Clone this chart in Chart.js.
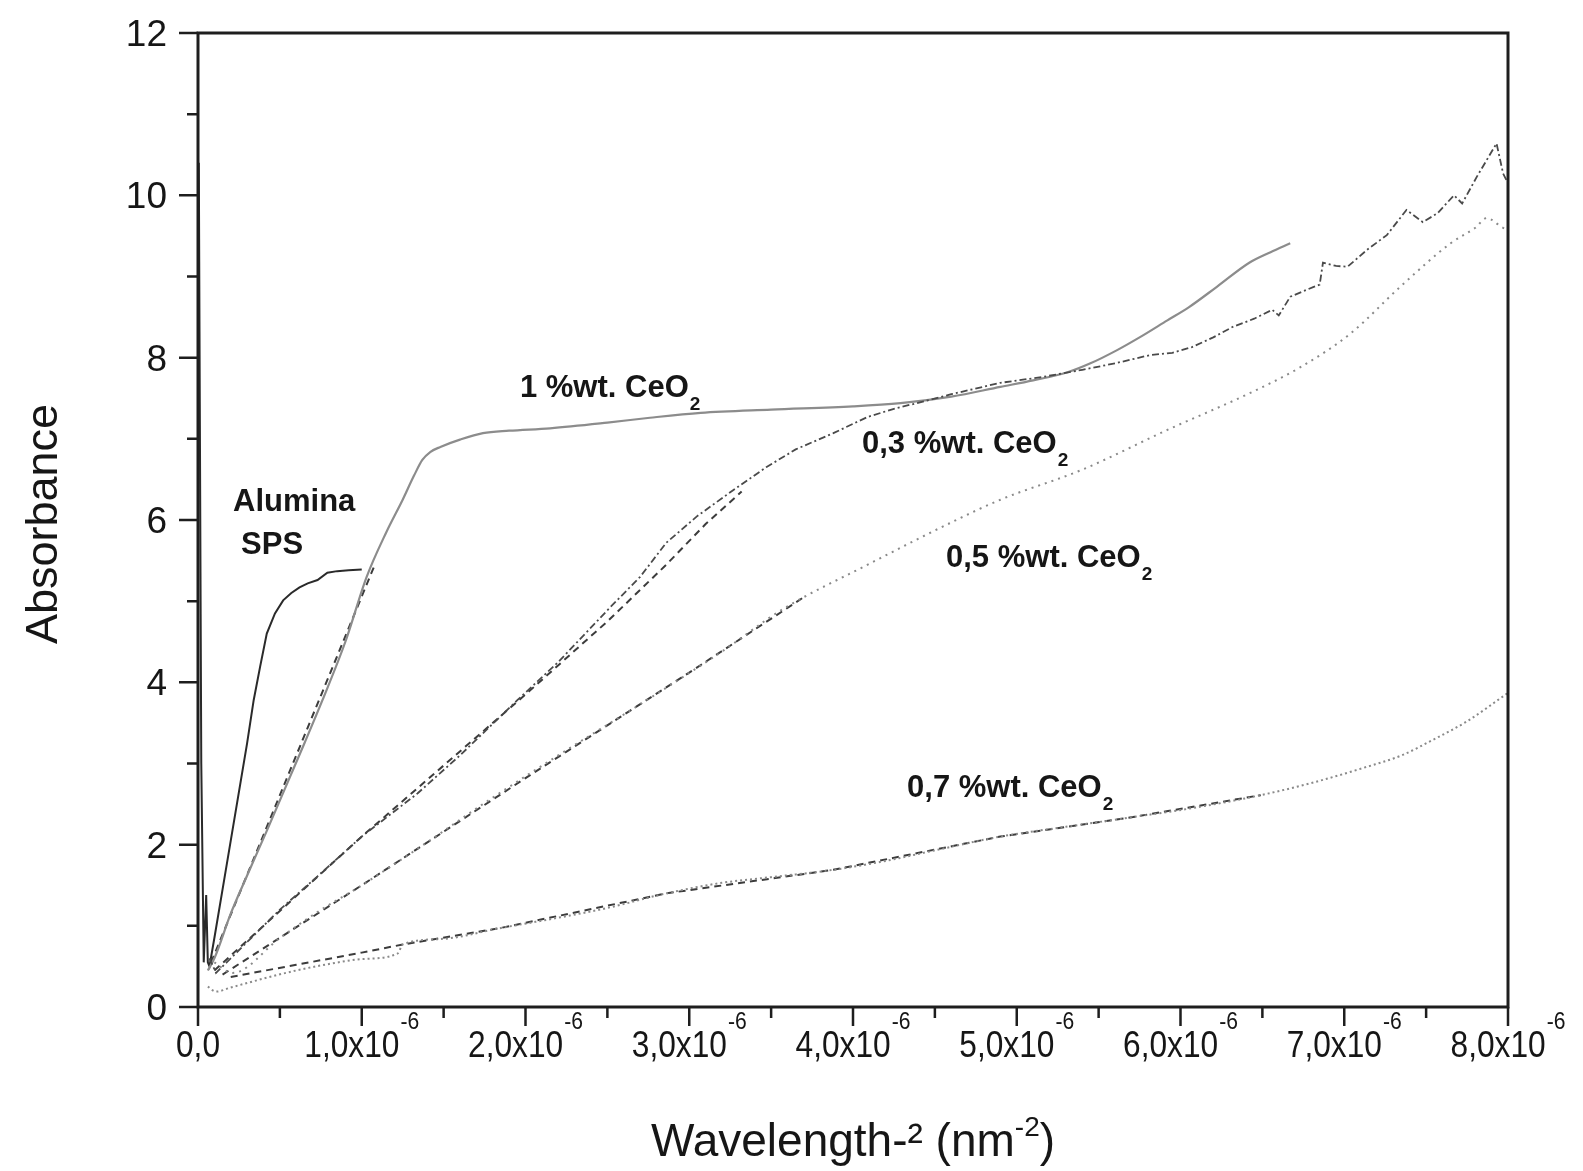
<!DOCTYPE html>
<html>
<head>
<meta charset="utf-8">
<script src="https://cdn.jsdelivr.net/npm/chart.js@4.4.1/dist/chart.umd.min.js"></script>
<style>
  html, body { margin: 0; padding: 0; background: #fff; }
  #wrap { width: 1583px; height: 1171px; }
</style>
</head>
<body>
<div id="wrap"><canvas id="chart" width="1583" height="1171"></canvas></div>
<script>
// x values are Wavelength^-2 in units of 1e-6 nm^-2
const aluminaX = [0.005, 0.02, 0.035, 0.05, 0.06, 0.07, 0.1, 0.15, 0.2, 0.25, 0.3, 0.34, 0.38, 0.42, 0.47, 0.52, 0.57, 0.62, 0.67, 0.73, 0.79, 0.85, 0.92, 1.0];
const aluminaY = [10.4, 3.0, 0.55, 1.38, 0.55, 0.5, 0.85, 1.45, 2.05, 2.65, 3.25, 3.78, 4.2, 4.6, 4.85, 5.01, 5.1, 5.17, 5.22, 5.26, 5.35, 5.37, 5.38, 5.39];

const onePctX = [0.06, 0.1, 0.2, 0.3, 0.42, 0.55, 0.65, 0.76, 0.9, 1.03, 1.15, 1.25, 1.32, 1.37, 1.42, 1.48, 1.6, 1.74, 1.9, 2.15, 2.5, 2.76, 3.07, 3.5, 4.0, 4.29, 4.6, 4.9, 5.1, 5.31, 5.45, 5.61, 5.75, 5.92, 6.05, 6.22, 6.42, 6.55, 6.67];
const onePctY = [0.45, 0.6, 1.15, 1.62, 2.17, 2.78, 3.25, 3.78, 4.5, 5.3, 5.85, 6.25, 6.55, 6.74, 6.84, 6.9, 6.99, 7.07, 7.1, 7.13, 7.2, 7.26, 7.32, 7.36, 7.4, 7.44, 7.52, 7.64, 7.72, 7.82, 7.93, 8.09, 8.25, 8.46, 8.62, 8.87, 9.17, 9.3, 9.41];

const p3X = [0.07, 0.11, 0.3, 0.5, 0.73, 1.0, 1.34, 1.6, 1.95, 2.2, 2.52, 2.7, 2.86, 3.05, 3.27, 3.47, 3.65, 3.88, 4.09, 4.25, 4.39, 4.6, 4.9, 5.15, 5.4, 5.6, 5.81, 5.95, 6.07, 6.2, 6.32, 6.45, 6.56, 6.6, 6.67, 6.81, 6.85, 6.87, 6.95, 7.02, 7.14, 7.26, 7.38, 7.48, 7.57, 7.67, 7.72, 7.81, 7.93, 7.97, 8.0];
const p3Y = [0.6, 0.42, 0.8, 1.2, 1.61, 2.1, 2.63, 3.1, 3.78, 4.25, 4.93, 5.3, 5.72, 6.05, 6.37, 6.65, 6.87, 7.07, 7.27, 7.37, 7.44, 7.55, 7.69, 7.76, 7.85, 7.93, 8.03, 8.06, 8.13, 8.25, 8.38, 8.48, 8.59, 8.52, 8.75, 8.87, 8.9, 9.17, 9.13, 9.12, 9.33, 9.51, 9.82, 9.67, 9.78, 10.0, 9.9, 10.23, 10.64, 10.27, 10.15];

const p5X = [0.1, 0.21, 0.5, 0.73, 1.0, 1.4, 1.74, 2.2, 2.74, 3.2, 3.57, 4.09, 4.59, 4.9, 5.4, 5.92, 6.42, 6.73, 7.04, 7.34, 7.65, 7.8, 7.87, 7.97, 8.0];
const p5Y = [0.55, 0.42, 0.85, 1.17, 1.5, 2.03, 2.5, 3.1, 3.78, 4.38, 4.9, 5.45, 5.96, 6.25, 6.62, 7.11, 7.56, 7.88, 8.3, 8.87, 9.41, 9.6, 9.72, 9.6, 9.58];

const p7X = [0.06, 0.11, 0.2, 0.4, 0.6, 0.8, 1.0, 1.22, 1.25, 1.5, 1.84, 2.2, 2.5, 2.86, 3.2, 3.5, 3.88, 4.2, 4.5, 4.9, 5.3, 5.71, 6.1, 6.49, 6.8, 7.14, 7.35, 7.54, 7.75, 8.0];
const p7Y = [0.25, 0.19, 0.24, 0.35, 0.45, 0.53, 0.59, 0.66, 0.77, 0.84, 0.97, 1.1, 1.22, 1.4, 1.53, 1.6, 1.69, 1.8, 1.93, 2.1, 2.22, 2.34, 2.46, 2.61, 2.76, 2.96, 3.1, 3.29, 3.52, 3.87];

// dashed linear fits overlaid on the start of each curve
const fit1X = [0.08, 0.6, 1.08];
const fit1Y = [0.55, 3.1, 5.45];
const fit3X = [0.1, 1.0, 2.0, 2.5, 2.86, 3.1, 3.32];
const fit3Y = [0.45, 2.1, 3.85, 4.75, 5.45, 5.95, 6.35];
const fit5X = [0.15, 1.0, 2.0, 3.0, 3.7];
const fit5Y = [0.4, 1.5, 2.82, 4.12, 5.05];
const fit7X = [0.2, 0.6, 1.0, 1.25, 1.84, 2.86, 3.88, 4.9, 5.71, 6.49];
const fit7Y = [0.37, 0.52, 0.67, 0.77, 0.97, 1.4, 1.69, 2.1, 2.34, 2.61];

const xTicks = [0, 1, 2, 3, 4, 5, 6, 7, 8];
const xTickMantissa = ['0,0', '1,0x10', '2,0x10', '3,0x10', '4,0x10', '5,0x10', '6,0x10', '7,0x10', '8,0x10'];
const xTickExponent = ['', '-6', '-6', '-6', '-6', '-6', '-6', '-6', '-6'];
const yTicks = [0, 2, 4, 6, 8, 10, 12];

const curveLabels = [
    { text: 'Alumina', sub: '', x: 0.214, y: 6.11 },
    { text: 'SPS', sub: '', x: 0.263, y: 5.58 },
    { text: '1 %wt. CeO', sub: '2', x: 1.966, y: 7.52 },
    { text: '0,3 %wt. CeO', sub: '2', x: 4.055, y: 6.83 },
    { text: '0,5 %wt. CeO', sub: '2', x: 4.568, y: 5.42 },
    { text: '0,7 %wt. CeO', sub: '2', x: 4.33, y: 2.59 }
];

const FONT = '"Liberation Sans", Arial, sans-serif';

function pts(xs, ys) {
    return xs.map((x, i) => ({ x: x, y: ys[i] }));
}

function line(data, color, width, dash, smooth) {
    return {
        data: data,
        showLine: true,
        borderColor: color,
        borderWidth: width,
        borderDash: dash,
        pointRadius: 0,
        fill: false,
        cubicInterpolationMode: smooth ? 'monotone' : 'default',
        tension: 0
    };
}

const framePlugin = {
    id: 'frame',
    afterDatasetsDraw(chart) {
        const { ctx, chartArea: a, scales: { x, y } } = chart;
        ctx.save();
        ctx.strokeStyle = '#1e1e1e';
        ctx.fillStyle = '#161616';
        ctx.lineWidth = 3;
        ctx.strokeRect(a.left, a.top, a.right - a.left, a.bottom - a.top);

        // outward ticks, minor ones between labels
        ctx.lineWidth = 2.5;
        ctx.beginPath();
        for (let v = 0; v <= 8; v += 0.5) {
            const px = x.getPixelForValue(v);
            const len = Number.isInteger(v) ? 19 : 11;
            ctx.moveTo(px, a.bottom);
            ctx.lineTo(px, a.bottom + len);
        }
        for (let v = 0; v <= 12; v += 1) {
            const py = y.getPixelForValue(v);
            const len = v % 2 === 0 ? 19 : 11;
            ctx.moveTo(a.left, py);
            ctx.lineTo(a.left - len, py);
        }
        ctx.stroke();

        // x tick labels with superscript exponent
        const squeeze = 0.88;
        xTicks.forEach((v, i) => {
            const px = x.getPixelForValue(v);
            ctx.font = '36px ' + FONT;
            const wm = ctx.measureText(xTickMantissa[i]).width * squeeze;
            ctx.font = '24px ' + FONT;
            const we = xTickExponent[i] ? ctx.measureText(xTickExponent[i]).width * squeeze + 1 : 0;
            const start = px - (wm + we) / 2;
            ctx.save();
            ctx.translate(start, a.bottom + 50);
            ctx.scale(squeeze, 1);
            ctx.font = '36px ' + FONT;
            ctx.textAlign = 'left';
            ctx.fillText(xTickMantissa[i], 0, 0);
            ctx.restore();
            if (xTickExponent[i]) {
                ctx.save();
                ctx.translate(start + wm + 1, a.bottom + 22);
                ctx.scale(squeeze, 1);
                ctx.font = '24px ' + FONT;
                ctx.fillText(xTickExponent[i], 0, 0);
                ctx.restore();
            }
        });

        // y tick labels
        ctx.font = '37px ' + FONT;
        ctx.textAlign = 'right';
        yTicks.forEach(v => {
            ctx.fillText(String(v), a.left - 31, y.getPixelForValue(v) + 13);
        });

        // axis titles
        ctx.save();
        ctx.translate(57, (a.top + a.bottom) / 2 + 4);
        ctx.rotate(-Math.PI / 2);
        ctx.font = '45px ' + FONT;
        ctx.textAlign = 'center';
        ctx.fillText('Absorbance', 0, 0);
        ctx.restore();

        const t1 = 'Wavelength-\u00B2 (nm';
        ctx.font = '46px ' + FONT;
        const w1 = ctx.measureText(t1).width;
        const w3 = ctx.measureText(')').width;
        ctx.font = '28px ' + FONT;
        const w2 = ctx.measureText('-2').width;
        let tx = (a.left + a.right) / 2 - (w1 + w2 + w3) / 2;
        const ty = a.bottom + 149;
        ctx.textAlign = 'left';
        ctx.font = '46px ' + FONT;
        ctx.fillText(t1, tx, ty);
        ctx.font = '28px ' + FONT;
        ctx.fillText('-2', tx + w1, ty - 20);
        ctx.font = '46px ' + FONT;
        ctx.fillText(')', tx + w1 + w2, ty);

        // curve labels
        curveLabels.forEach(l => {
            const lx = x.getPixelForValue(l.x);
            const ly = y.getPixelForValue(l.y);
            ctx.font = 'bold 31px ' + FONT;
            ctx.fillText(l.text, lx, ly);
            if (l.sub) {
                const w = ctx.measureText(l.text).width;
                ctx.font = 'bold 19px ' + FONT;
                ctx.fillText(l.sub, lx + w + 1, ly + 13);
            }
        });
        ctx.restore();
    }
};

new Chart(document.getElementById('chart'), {
    type: 'scatter',
    data: {
        datasets: [
            line(pts(p7X, p7Y), '#8a8a8a', 2, [2, 3], true),
            line(pts(p5X, p5Y), '#8a8a8a', 2, [2, 5], true),
            line(pts(p3X, p3Y), '#4a4a4a', 1.8, [7, 3, 2, 3], false),
            line(pts(onePctX, onePctY), '#8c8c8c', 2.2, [], true),
            line(pts(aluminaX, aluminaY), '#2a2a2a', 2, [], false),
            line(pts(fit1X, fit1Y), '#3c3c3c', 2, [7, 5], false),
            line(pts(fit3X, fit3Y), '#3c3c3c', 2, [7, 5], false),
            line(pts(fit5X, fit5Y), '#3c3c3c', 2, [7, 5], false),
            line(pts(fit7X, fit7Y), '#3c3c3c', 2, [7, 5], false)
        ]
    },
    options: {
        responsive: false,
        devicePixelRatio: 1,
        animation: false,
        layout: { padding: { left: 198, right: 75, top: 33, bottom: 164 } },
        plugins: { legend: { display: false }, tooltip: { enabled: false } },
        scales: {
            x: { type: 'linear', min: 0, max: 8, display: false },
            y: { type: 'linear', min: 0, max: 12, display: false }
        }
    },
    plugins: [framePlugin]
});
</script>
</body>
</html>
